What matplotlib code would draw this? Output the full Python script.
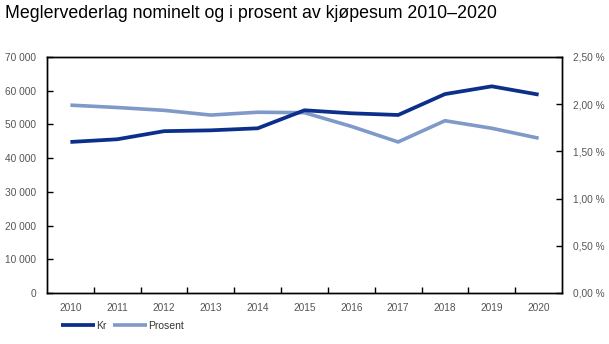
import matplotlib.pyplot as plt
import matplotlib.ticker as mticker
import numpy as np

years = ['2010', '2011', '2012', '2013', '2014', '2015', '2016', '2017', '2018', '2019', '2020']
kr = [44800, 45600, 48000, 48250, 48850, 54200, 53300, 52800, 59000, 61300, 58850]
prosent = [1.99, 1.965, 1.935, 1.885, 1.915, 1.91, 1.765, 1.60, 1.825, 1.745, 1.64]

dark = '#0b2f8a'
light = '#7f99c9'
grey = '#555555'

plt.rcParams['font.family'] = ['Liberation Sans', 'DejaVu Sans']

fig = plt.figure(figsize=(6.09, 3.44), dpi=100, facecolor='w')
ax = fig.add_axes([47 / 609, 51 / 344, 515 / 609, 236 / 344])
ax2 = ax.twinx()

x = np.arange(len(years))
line1, = ax.plot(x, kr, '-', color=dark, lw=2.7, label='Kr', solid_capstyle='butt')
line2, = ax2.plot(x, prosent, '-', color=light, lw=2.6, label='Prosent', solid_capstyle='butt')
ax.set_zorder(ax2.get_zorder() + 1)
ax.patch.set_visible(False)

ax.set_xlim(-0.5, len(years) - 0.5)
ax.set_ylim(0, 70000)
ax2.set_ylim(0, 2.5)
ax.set_yticks(np.arange(0, 70001, 10000))
ax2.set_yticks(np.arange(0, 2.51, 0.5))
ax.yaxis.set_major_formatter(mticker.FuncFormatter(lambda v, p: f'{int(v):,}'.replace(',', ' ')))
ax2.yaxis.set_major_formatter(mticker.FuncFormatter(lambda v, p: f'{v:.2f} %'.replace('.', ',')))

ax.set_xticks(x)
ax.set_xticklabels(years)
ax.set_xticks(np.arange(0.5, len(years) - 1, 1), minor=True)
ax.tick_params(axis='x', which='major', length=0, pad=7, labelsize=7.3, labelcolor=grey)
ax.tick_params(axis='x', which='minor', direction='in', length=4, width=1)
ax.tick_params(axis='y', direction='in', length=4, width=1, labelsize=7.3, labelcolor=grey, pad=8)
ax2.tick_params(axis='y', direction='in', length=4, width=1, labelsize=7.3, labelcolor=grey, pad=8)

for a in (ax, ax2):
    for s in a.spines.values():
        s.set_color('black')
        s.set_linewidth(1)

fig.text(5 / 609, 1 - 14 / 344, 'Meglervederlag nominelt og i prosent av kjøpesum 2010–2020',
         fontsize=12.8, va='center', ha='left', color='black')

fig.legend(handles=[line1, line2], loc='center left', bbox_to_anchor=(52 / 609, 1 - 326 / 344),
           ncol=2, frameon=False, fontsize=7.5, handlelength=3.2, handletextpad=0.1,
           columnspacing=0.7, labelcolor='#333333')

fig.savefig('out.png', dpi=100)
